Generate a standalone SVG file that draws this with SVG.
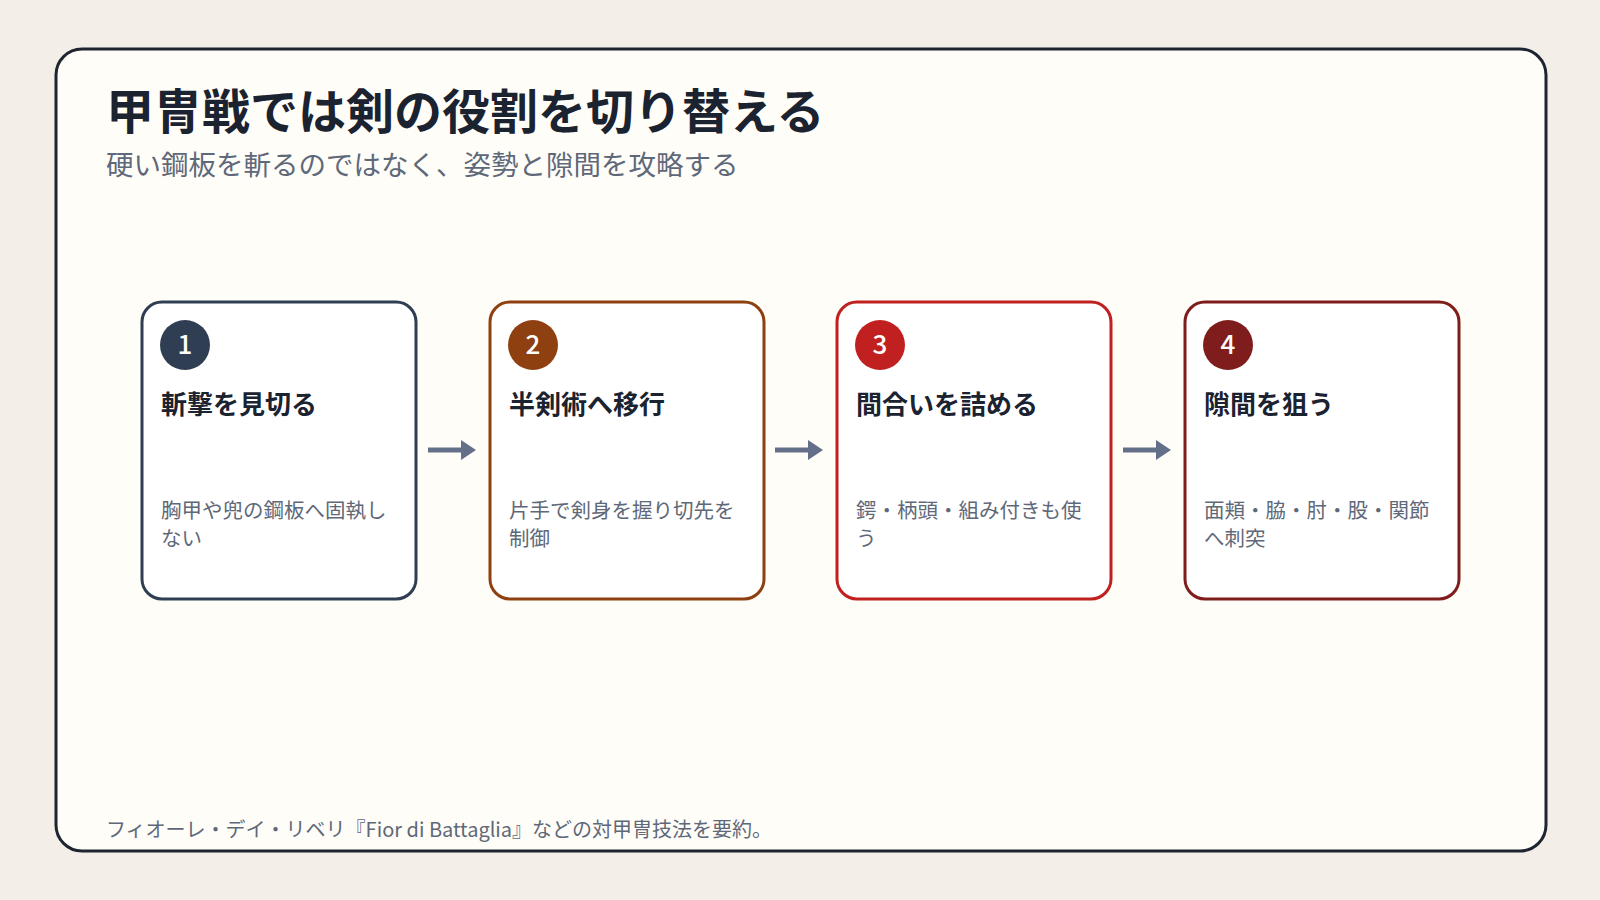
<svg xmlns="http://www.w3.org/2000/svg" width="1600" height="900" viewBox="0 0 1600 900">
<style>
text{font-family:"Noto Sans CJK JP","Noto Sans",sans-serif}
.card{fill:#ffffff;stroke-width:3}
.num{fill:#fff;font-size:26px;font-weight:500;text-anchor:middle}
.ct{fill:#1b2230;font-size:26px;font-weight:700}
.cd{fill:#5f6878;font-size:20.5px}
.conn{stroke:#64708a;stroke-width:5}
</style>
<defs><marker id="ah" markerWidth="4" markerHeight="4" refX="2" refY="2" orient="auto" markerUnits="strokeWidth"><path d="M0,0 L3,2 L0,4 z" fill="#64708a"/></marker></defs>
<rect width="1600" height="900" fill="#f3efe8"/>
<rect x="56" y="49" width="1490" height="802" rx="26" fill="#fefdf8" stroke="#1e2530" stroke-width="3"/>
<text x="106" y="129" font-size="48" font-weight="700" fill="#1b2230">甲冑戦では剣の役割を切り替える</text>
<text x="106" y="175" font-size="27.5" fill="#5f6878">硬い鋼板を斬るのではなく、姿勢と隙間を攻略する</text>
<g id="connectors">
<line class="conn" x1="428" y1="450" x2="471" y2="450" marker-end="url(#ah)"/>
<line class="conn" x1="775" y1="450" x2="818" y2="450" marker-end="url(#ah)"/>
<line class="conn" x1="1123" y1="450" x2="1166" y2="450" marker-end="url(#ah)"/>
</g>
<g id="n1"><rect class="card" x="142" y="302" width="274" height="297" rx="20" stroke="#2f3e52"/><circle cx="185" cy="345" r="25" fill="#2f3e52"/><text class="num" x="185" y="354">1</text><text class="ct" x="161" y="414">斬撃を見切る</text><text class="cd" x="161" y="518">胸甲や兜の鋼板へ固執し</text><text class="cd" x="161" y="546">ない</text></g>
<g id="n2"><rect class="card" x="490" y="302" width="274" height="297" rx="20" stroke="#8e4010"/><circle cx="533" cy="345" r="25" fill="#8e4010"/><text class="num" x="533" y="354">2</text><text class="ct" x="509" y="414">半剣術へ移行</text><text class="cd" x="509" y="518">片手で剣身を握り切先を</text><text class="cd" x="509" y="546">制御</text></g>
<g id="n3"><rect class="card" x="837" y="302" width="274" height="297" rx="20" stroke="#c0201f"/><circle cx="880" cy="345" r="25" fill="#c0201f"/><text class="num" x="880" y="354">3</text><text class="ct" x="856" y="414">間合いを詰める</text><text class="cd" x="856" y="518">鍔・柄頭・組み付きも使</text><text class="cd" x="856" y="546">う</text></g>
<g id="n4"><rect class="card" x="1185" y="302" width="274" height="297" rx="20" stroke="#7f1d1d"/><circle cx="1228" cy="345" r="25" fill="#7f1d1d"/><text class="num" x="1228" y="354">4</text><text class="ct" x="1204" y="414">隙間を狙う</text><text class="cd" x="1204" y="518">面頬・脇・肘・股・関節</text><text class="cd" x="1204" y="546">へ刺突</text></g>
<text x="106" y="837" font-size="20" fill="#5f6878">フィオーレ・デイ・リベリ『Fior di Battaglia』などの対甲冑技法を要約。</text>
</svg>
